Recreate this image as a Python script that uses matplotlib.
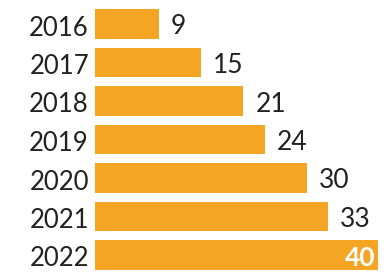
import matplotlib
matplotlib.use("Agg")
import matplotlib.pyplot as plt
from matplotlib.transforms import offset_copy, blended_transform_factory

years = ["2016", "2017", "2018", "2019", "2020", "2021", "2022"]
values = [9, 15, 21, 24, 30, 33, 40]

bar_color = "#F5A524"
text_color = "#222222"

fig = plt.figure(figsize=(3.88, 2.72), dpi=100)
fig.patch.set_facecolor("white")
ax = fig.add_axes([95 / 388, 0, 293 / 388, 1])
ax.set_facecolor("none")

pos = list(range(len(years)))
ax.barh(pos, values, height=0.77, color=bar_color, zorder=2)
ax.set_xlim(0, 293 / 7.07)
ax.set_ylim((272 - 24) / 38.5, -24 / 38.5)
ax.axis("off")

font = "Lato"
trans_left = blended_transform_factory(ax.transAxes, ax.transData)
for i, (y, v) in enumerate(zip(years, values)):
    t = offset_copy(trans_left, fig=fig, x=-6, y=-4, units="dots")
    ax.text(0, i, y, transform=t, ha="right", va="center", fontsize=18.5,
            color=text_color, family=font)
    if i == len(years) - 1:
        t2 = offset_copy(ax.transData, fig=fig, x=-2, y=-3, units="dots")
        ax.text(v, i, str(v), transform=t2, ha="right", va="center", fontsize=19,
                color="white", family=font, fontweight="bold")
    else:
        t2 = offset_copy(ax.transData, fig=fig, x=12, y=-3, units="dots")
        ax.text(v, i, str(v), transform=t2, ha="left", va="center", fontsize=19,
                color=text_color, family=font)

fig.savefig("out.png", dpi=100, facecolor="white")
